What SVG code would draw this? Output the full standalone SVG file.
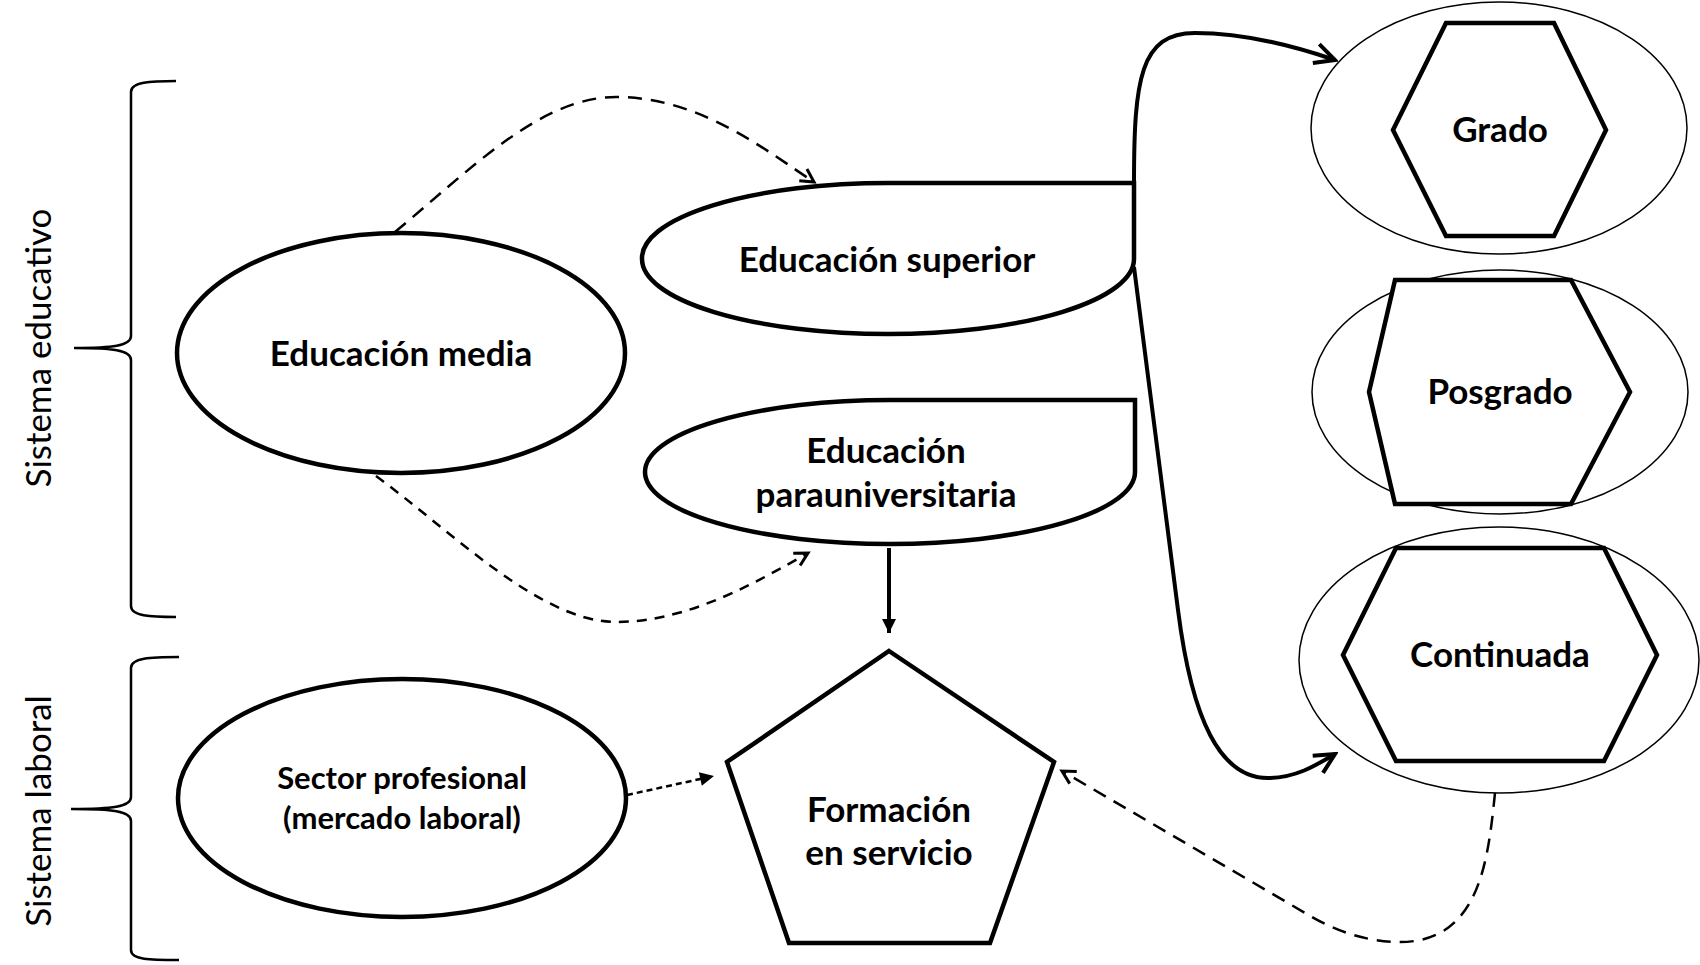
<svg xmlns="http://www.w3.org/2000/svg" width="1700" height="965" viewBox="0 0 1700 965">
<style>
.node{fill:#fff;stroke:#000;stroke-width:4.5}
.outer{fill:#fff;stroke:#000;stroke-width:1.5}
.lbl{font-family:Lato,"Liberation Sans",sans-serif;font-weight:bold;font-size:35px;text-anchor:middle;fill:#000}
.sm{font-size:31px}
.side{font-family:Lato,"Liberation Sans",sans-serif;font-weight:normal;font-size:35px;text-anchor:middle;fill:#000}
.brace{fill:none;stroke:#000;stroke-width:2.5}
.solid{fill:none;stroke:#000;stroke-width:4}
.dash1{fill:none;stroke:#000;stroke-width:2.5;stroke-dasharray:14 9}
.dash2{fill:none;stroke:#000;stroke-width:2.5;stroke-dasharray:10 8}
.dash3{fill:none;stroke:#000;stroke-width:2.5;stroke-dasharray:6 4}
</style>
<defs>
<marker id="openBig" markerUnits="userSpaceOnUse" viewBox="0 0 26 26" markerWidth="26" markerHeight="26" refX="23" refY="13" orient="auto">
<path d="M3,3 L23,13 L3,23" fill="none" stroke="#000" stroke-width="4"/>
</marker>
<marker id="openSmall" markerUnits="userSpaceOnUse" viewBox="0 0 20 20" markerWidth="20" markerHeight="20" refX="17" refY="10" orient="auto">
<path d="M4,3 L17,10 L4,17" fill="none" stroke="#000" stroke-width="3"/>
</marker>
<marker id="filled" markerUnits="userSpaceOnUse" viewBox="0 0 16 16" markerWidth="16" markerHeight="16" refX="15" refY="8" orient="auto">
<path d="M1,1 L15,8 L1,15 Z" fill="#000"/>
</marker>
</defs>

<g id="braces">
<path class="brace" d="M176,81 C150,81 131,82 131,92 L131,336 C131,346 112,348 74,348 C112,348 131,350 131,360 L131,606 C131,616 150,617 176,617"/>
<path class="brace" d="M179,657 C150,657 131,658 131,668 L131,797 C131,807 112,809 71,809 C112,809 131,811 131,821 L131,950 C131,960 150,960 179,960"/>
<text class="side" transform="translate(51,348) rotate(-90)">Sistema educativo</text>
<text class="side" transform="translate(51,811) rotate(-90)">Sistema laboral</text>
</g>

<g id="connectors">
<path class="dash1" d="M395,232 C470,170 540,97 616,97 C700,97 765,150 814,182" marker-end="url(#openSmall)"/>
<path class="dash2" d="M376,476 C450,530 540,622 616,622 C690,622 760,580 808,553" marker-end="url(#openSmall)"/>
<path class="solid" d="M1134,183 C1134,80 1140,33 1195,33 C1250,33 1300,48 1335,60" marker-end="url(#openBig)"/>
<path class="solid" d="M1134,267 L1178,610 C1192,720 1220,778 1268,778 C1295,778 1315,766 1335,754" marker-end="url(#openBig)"/>
<path class="solid" d="M889,548 L889,633" marker-end="url(#filled)"/>
<path class="dash3" d="M627,795 L714,776" marker-end="url(#filled)"/>
<path class="dash1" d="M1495,793 C1488,860 1480,942 1400,942 C1370,942 1340,933 1312,917 L1062,771" marker-end="url(#openSmall)"/>
</g>

<g id="educacion-media">
<ellipse class="node" cx="401" cy="353" rx="224" ry="120"/>
<text class="lbl" x="401" y="366">Educación media</text>
</g>

<g id="educacion-superior">
<path class="node" d="M888,183 L1134,183 L1134,259 A246,75 0 0 1 888,334 A246,75 0 0 1 642,259 A246,75 0 0 1 888,183 Z"/>
<text class="lbl" x="887" y="272">Educación superior</text>
</g>

<g id="educacion-parauniversitaria">
<path class="node" d="M890,400 L1135,400 L1135,472 A245,72 0 0 1 890,544 A245,72 0 0 1 645,472 A245,72 0 0 1 890,400 Z"/>
<text class="lbl" x="886" y="463">Educación</text>
<text class="lbl" x="886" y="507">parauniversitaria</text>
</g>

<g id="sector-profesional">
<ellipse class="node" cx="402" cy="798" rx="224" ry="119"/>
<text class="lbl sm" x="402" y="789">Sector profesional</text>
<text class="lbl sm" x="402" y="829">(mercado laboral)</text>
</g>

<g id="formacion-en-servicio">
<polygon class="node" points="889,651 1054,762 990,943 789,943 727,762"/>
<text class="lbl" x="889" y="822">Formación</text>
<text class="lbl" x="889" y="865">en servicio</text>
</g>

<g id="grado">
<ellipse class="outer" cx="1499" cy="128" rx="188" ry="126"/>
<polygon class="node" points="1446,23 1554,23 1606,130 1554,236 1446,236 1393,130"/>
<text class="lbl" x="1500" y="142">Grado</text>
</g>

<g id="posgrado">
<ellipse class="outer" cx="1500" cy="392" rx="188" ry="122"/>
<polygon class="node" points="1395,280 1571,280 1630,392 1571,504 1395,504 1369,392"/>
<text class="lbl" x="1500" y="404">Posgrado</text>
</g>

<g id="continuada">
<ellipse class="outer" cx="1499" cy="660" rx="200" ry="133"/>
<polygon class="node" points="1396,548 1604,548 1657,655 1604,761 1396,761 1343,655"/>
<text class="lbl" x="1500" y="667">Continuada</text>
</g>
</svg>
